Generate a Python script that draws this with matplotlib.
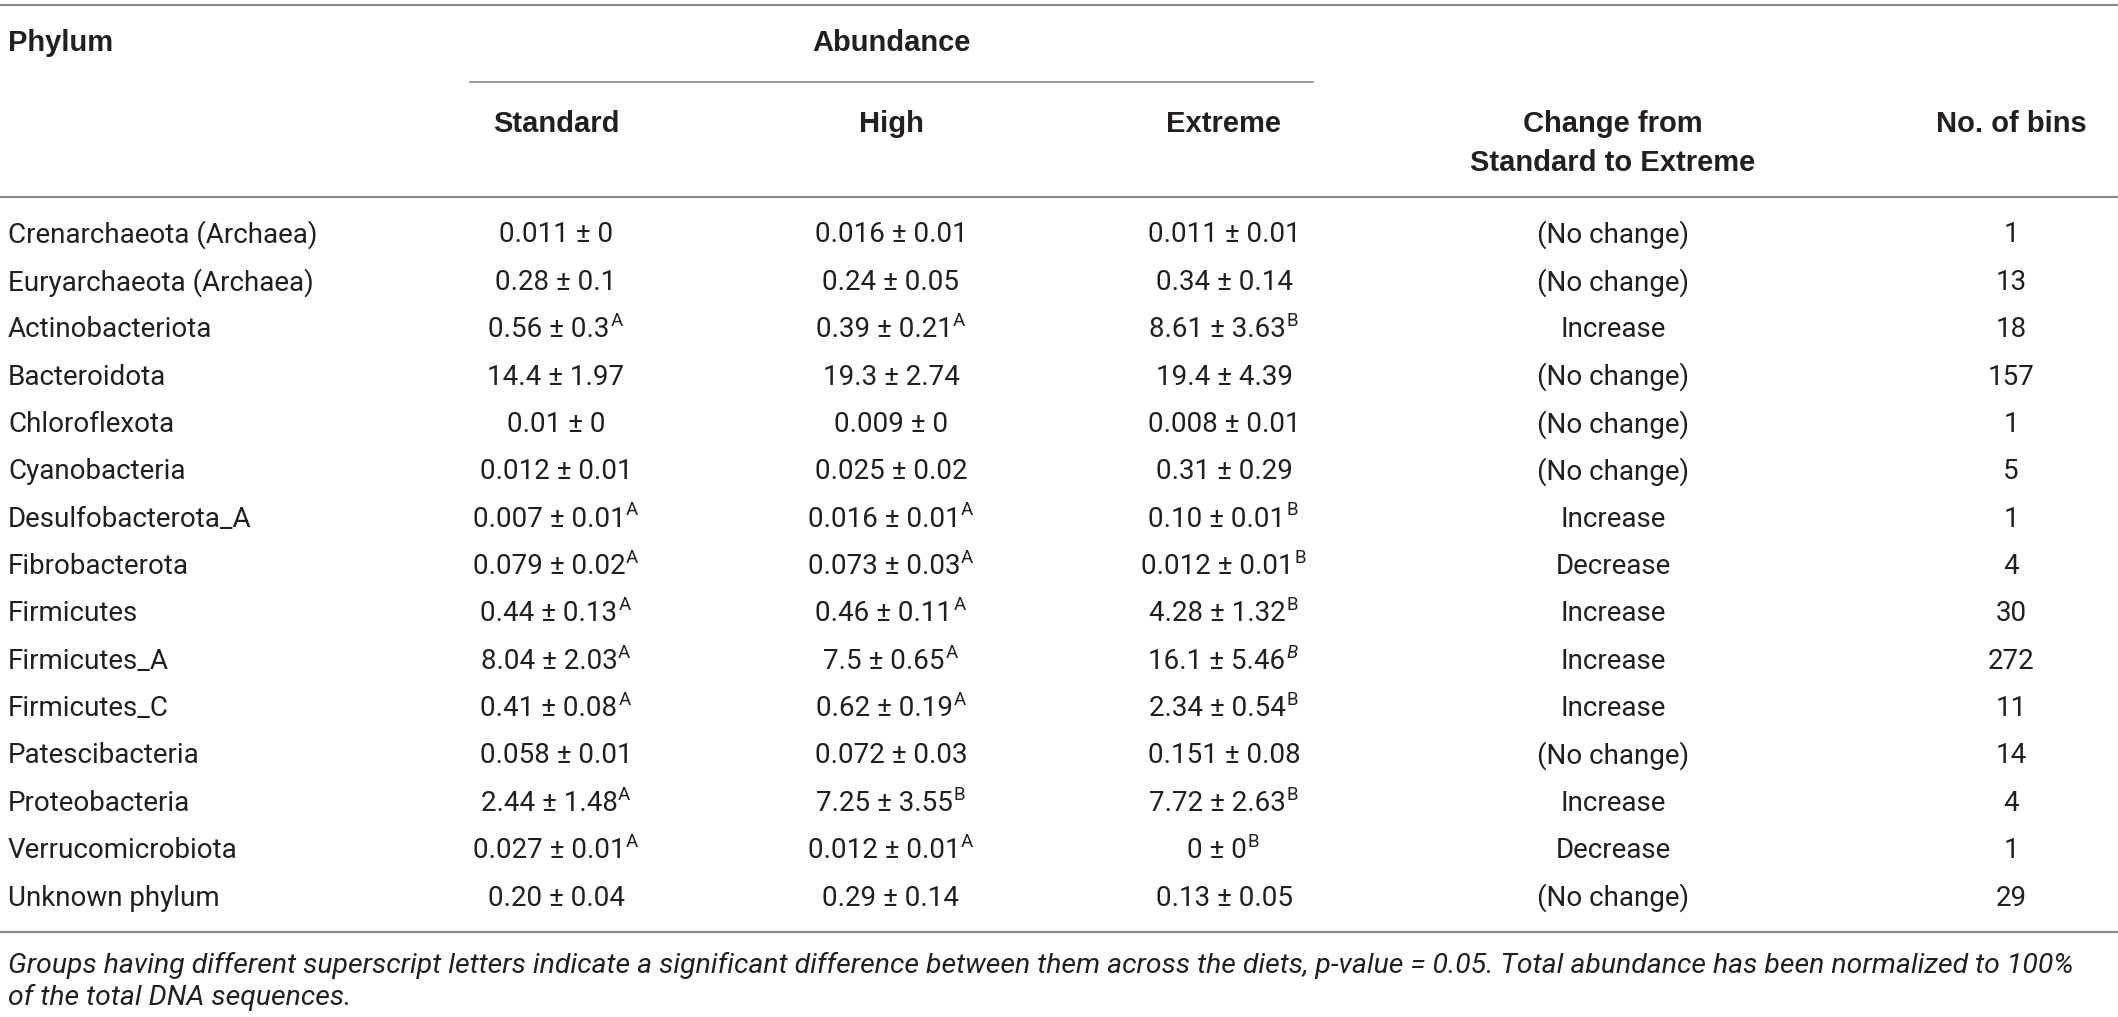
import matplotlib
matplotlib.use("Agg")
import matplotlib.pyplot as plt

# Table content
phyla = ["Crenarchaeota (Archaea)", "Euryarchaeota (Archaea)", "Actinobacteriota",
         "Bacteroidota", "Chloroflexota", "Cyanobacteria", "Desulfobacterota_A",
         "Fibrobacterota", "Firmicutes", "Firmicutes_A", "Firmicutes_C",
         "Patescibacteria", "Proteobacteria", "Verrucomicrobiota", "Unknown phylum"]
standard = ["0.011 ± 0", "0.28 ± 0.1", "0.56 ± 0.3", "14.4 ± 1.97", "0.01 ± 0",
            "0.012 ± 0.01", "0.007 ± 0.01", "0.079 ± 0.02", "0.44 ± 0.13", "8.04 ± 2.03",
            "0.41 ± 0.08", "0.058 ± 0.01", "2.44 ± 1.48", "0.027 ± 0.01", "0.20 ± 0.04"]
standard_sup = ["", "", "A", "", "", "", "A", "A", "A", "A", "A", "", "A", "A", ""]
high = ["0.016 ± 0.01", "0.24 ± 0.05", "0.39 ± 0.21", "19.3 ± 2.74", "0.009 ± 0",
        "0.025 ± 0.02", "0.016 ± 0.01", "0.073 ± 0.03", "0.46 ± 0.11", "7.5 ± 0.65",
        "0.62 ± 0.19", "0.072 ± 0.03", "7.25 ± 3.55", "0.012 ± 0.01", "0.29 ± 0.14"]
high_sup = ["", "", "A", "", "", "", "A", "A", "A", "A", "A", "", "B", "A", ""]
extreme = ["0.011 ± 0.01", "0.34 ± 0.14", "8.61 ± 3.63", "19.4 ± 4.39", "0.008 ± 0.01",
           "0.31 ± 0.29", "0.10 ± 0.01", "0.012 ± 0.01", "4.28 ± 1.32", "16.1 ± 5.46",
           "2.34 ± 0.54", "0.151 ± 0.08", "7.72 ± 2.63", "0 ± 0", "0.13 ± 0.05"]
extreme_sup = ["", "", "B", "", "", "", "B", "B", "B", "B", "B", "", "B", "B", ""]
change = ["(No change)", "(No change)", "Increase", "(No change)", "(No change)",
          "(No change)", "Increase", "Decrease", "Increase", "Increase", "Increase",
          "(No change)", "Increase", "Decrease", "(No change)"]
bins = [1, 13, 18, 157, 1, 5, 1, 4, 30, 272, 11, 14, 4, 1, 29]

footnote = ["Groups having different superscript letters indicate a significant difference "
            "between them across the diets, p-value = 0.05. Total abundance has been normalized to 100%",
            "of the total DNA sequences."]

plt.rcParams['font.family'] = ['Roboto', 'Liberation Sans', 'DejaVu Sans']

W, H = 2118, 1017
fig = plt.figure(figsize=(W / 100, H / 100), dpi=100)
ax = fig.add_axes([0, 0, 1, 1])
ax.set_xlim(0, W)
ax.set_ylim(H, 0)
ax.axis("off")

ink = "#231f20"
rule = "#8a8a8a"
fs = 20
body = dict(fontsize=fs, color=ink, va="center")

# column centres
x_phy = 8
x_std, x_high, x_ext, x_chg, x_bins = 556, 891, 1224, 1613, 2011

# rules
ax.plot([0, W], [5, 5], color=rule, lw=1.6)
ax.plot([470, 1313], [82, 82], color=rule, lw=1.2)
ax.plot([0, W], [197, 197], color=rule, lw=1.6)
ax.plot([0, W], [932, 932], color=rule, lw=1.6)

# headers
hd = dict(fontsize=21, fontweight="bold", color=ink, va="center",
          family=['Liberation Sans', 'DejaVu Sans'])
ax.text(x_phy, 43, "Phylum", ha="left", **hd)
ax.text(x_high, 43, "Abundance", ha="center", **hd)
ax.text(x_std, 124, "Standard", ha="center", **hd)
ax.text(x_high, 124, "High", ha="center", **hd)
ax.text(x_ext, 124, "Extreme", ha="center", **hd)
ax.text(x_chg, 124, "Change from", ha="center", **hd)
ax.text(x_chg, 163, "Standard to Extreme", ha="center", **hd)
ax.text(x_bins, 124, "No. of bins", ha="center", **hd)

row0, step = 235, (898 - 235) / 14


def cell(x, y, txt, sup, italic_sup=False):
    shift = 7 if sup else 0
    t = ax.text(x - shift, y, txt, ha="center", **body)
    if sup:
        ax.annotate(sup, xy=(1, 1), xycoords=t, xytext=(0.5, 3), textcoords="offset points",
                    ha="left", va="top", fontsize=fs * 0.67, color=ink,
                    style="italic" if italic_sup else "normal")


for i, name in enumerate(phyla):
    y = row0 + i * step
    ax.text(x_phy, y, name, ha="left", **body)
    cell(x_std, y, standard[i], standard_sup[i])
    cell(x_high, y, high[i], high_sup[i])
    cell(x_ext, y, extreme[i], extreme_sup[i], italic_sup=(name == "Firmicutes_A"))
    ax.text(x_chg, y, change[i], ha="center", **body)
    ax.text(x_bins, y, str(bins[i]), ha="center", **body)

foot = dict(body, fontsize=20.4, style="italic")
ax.text(x_phy, 965, footnote[0], ha="left", **foot)
ax.text(x_phy, 997, footnote[1], ha="left", **foot)

fig.savefig("out.png", dpi=100)
